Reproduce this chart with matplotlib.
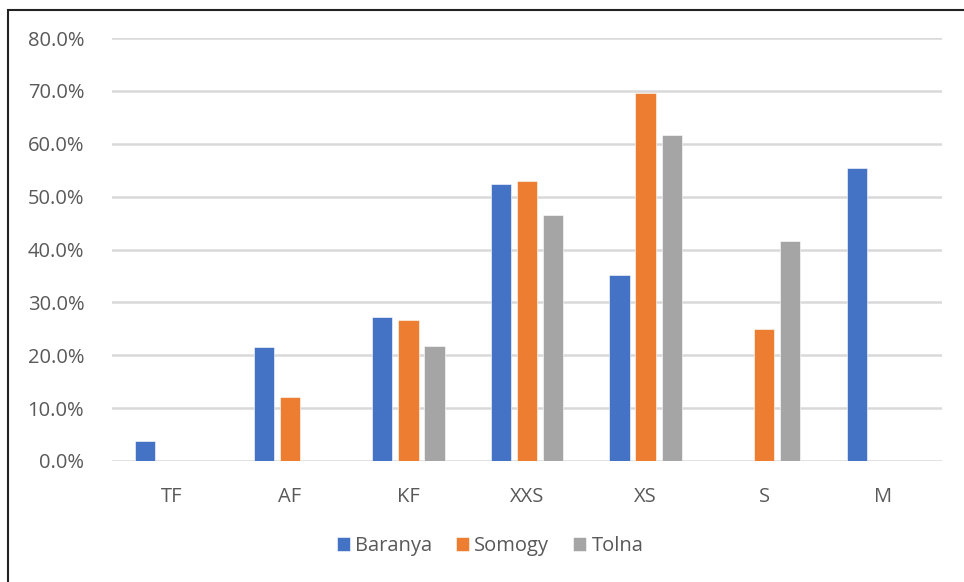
import matplotlib.pyplot as plt
import matplotlib.patches as mpatches
import numpy as np
from matplotlib.ticker import FuncFormatter

categories = ["TF", "AF", "KF", "XXS", "XS", "S", "M"]
baranya = [3.8, 21.5, 27.2, 52.3, 35.2, 0, 55.5]
somogy = [0, 12.1, 26.6, 52.9, 69.6, 25.0, 0]
tolna = [0, 0, 21.8, 46.5, 61.7, 41.7, 0]
series_names = ["Baranya", "Somogy", "Tolna"]
colors = ["#4472C4", "#ED7D31", "#A5A5A5"]

plt.rcParams['font.family'] = ['Open Sans', 'DejaVu Sans']

fig = plt.figure(figsize=(9.64, 5.82), dpi=100)
ax = fig.add_axes([112 / 964, 1 - 461 / 582, 830 / 964, 423 / 582])

x = np.arange(len(categories))
w = 0.17
step = 0.22
for i, (vals, name, c) in enumerate(zip([baranya, somogy, tolna], series_names, colors)):
    ax.bar(x + (i - 1) * step, np.array(vals) / 100, width=w, color=c, label=name,
           edgecolor="white", linewidth=0.4, zorder=3)

ax.set_xlim(-0.5, len(categories) - 0.5)
ax.set_ylim(0, 0.8)
ax.set_yticks(np.arange(0, 0.81, 0.1))
ax.yaxis.set_major_formatter(FuncFormatter(lambda v, p: f"{v * 100:.1f}%"))
ax.set_xticks(x)
ax.set_xticklabels(categories)
ax.tick_params(axis='both', length=0, labelsize=14.5, labelcolor="#595959")
ax.tick_params(axis='y', pad=20)
ax.tick_params(axis='x', pad=19)
ax.grid(axis='y', color="#D9D9D9", linewidth=1.8, zorder=0)
for s in ax.spines.values():
    s.set_visible(False)

leg = fig.legend(loc='center', bbox_to_anchor=(490 / 964, 1 - 546 / 582), ncol=3,
                 frameon=False, fontsize=14.5, handlelength=0.65, handleheight=0.7,
                 handletextpad=0.25, columnspacing=1.2)
for t in leg.get_texts():
    t.set_color("#595959")

# outer frame of the chart area
fig.patches.append(mpatches.Rectangle((8 / 964, -0.1), 1.2, 1 - 10 / 582 + 0.1,
                                      transform=fig.transFigure, fill=False,
                                      edgecolor="#222222", linewidth=1.5))

fig.savefig("out.png", dpi=100)
